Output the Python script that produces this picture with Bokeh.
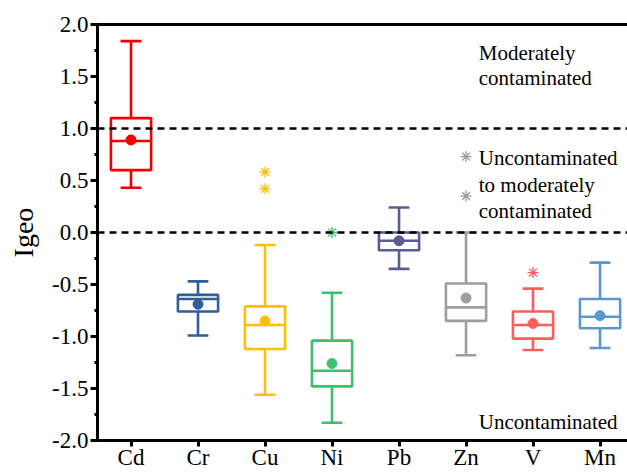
from bokeh.plotting import figure
from bokeh.models import (Range1d, FixedTicker, SingleIntervalTicker, NumeralTickFormatter,
                          LinearAxis, Span, Label, ColumnDataSource)
from bokeh.embed import file_html
from bokeh.resources import INLINE

elements = ["Cd", "Cr", "Cu", "Ni", "Pb", "Zn", "V", "Mn"]
colors = ["#F20000", "#2F5F98", "#FFC000", "#3CC06C", "#5B5B94", "#9E9E9E", "#FF5C5C", "#5E97D0"]
whisk_hi = [1.84, -0.47, -0.12, -0.58, 0.24, 0.00, -0.54, -0.29]
q3 = [1.10, -0.60, -0.71, -1.04, 0.00, -0.49, -0.76, -0.64]
median = [0.88, -0.64, -0.89, -1.33, -0.08, -0.72, -0.89, -0.81]
mean = [0.89, -0.69, -0.85, -1.26, -0.08, -0.63, -0.875, -0.80]
q1 = [0.60, -0.76, -1.12, -1.48, -0.17, -0.85, -1.02, -0.92]
whisk_lo = [0.43, -0.99, -1.56, -1.83, -0.35, -1.18, -1.13, -1.11]
outlier_elem = ["Cu", "Cu", "Ni", "Zn", "Zn", "V"]
outlier_val = [0.58, 0.42, 0.00, 0.73, 0.35, -0.385]

FONT = "'Liberation Serif', 'Times New Roman', serif"
idx = list(range(len(elements)))
BOX_HALF = 0.3
CAP_HALF = 0.155

p = figure(width=627, height=473, output_backend="svg", toolbar_location=None,
           x_range=Range1d(-0.5, 7.41), y_range=Range1d(-2.0, 2.0),
           min_border_left=97, min_border_right=0, min_border_top=24, min_border_bottom=33)
p.outline_line_color = None
p.xgrid.visible = False
p.ygrid.visible = False
p.background_fill_color = "white"
p.border_fill_color = "white"

src = ColumnDataSource(dict(
    x=idx, color=colors, hi=whisk_hi, q3=q3, med=median, mean=mean, q1=q1, lo=whisk_lo,
    left=[i - BOX_HALF for i in idx], right=[i + BOX_HALF for i in idx],
    cl=[i - CAP_HALF for i in idx], cr=[i + CAP_HALF for i in idx],
))

LW = 2.6
p.segment(x0="x", y0="q3", x1="x", y1="hi", line_color="color", line_width=LW, source=src)
p.segment(x0="x", y0="q1", x1="x", y1="lo", line_color="color", line_width=LW, source=src)
p.segment(x0="cl", y0="hi", x1="cr", y1="hi", line_color="color", line_width=LW, source=src)
p.segment(x0="cl", y0="lo", x1="cr", y1="lo", line_color="color", line_width=LW, source=src)
p.quad(left="left", right="right", bottom="q1", top="q3", fill_color=None,
       line_color="color", line_width=LW, source=src)
p.segment(x0="left", y0="med", x1="right", y1="med", line_color="color", line_width=LW, source=src)
p.scatter(x="x", y="mean", marker="circle", size=10, fill_color="color", line_color="color", source=src)

ox = [elements.index(e) for e in outlier_elem]
oc = [colors[i] for i in ox]
p.scatter(x=ox, y=outlier_val, marker="asterisk", size=11, line_color=oc, line_width=1.3)

for yv in (1.0, 0.0):
    p.add_layout(Span(location=yv, dimension="width", line_color="black",
                      line_width=2.5, line_dash="7 5"))

xa = p.xaxis[0]
xa.ticker = FixedTicker(ticks=idx)
xa.major_label_overrides = {i: e for i, e in enumerate(elements)}
xa.minor_tick_line_color = None
ya = p.yaxis[0]
ya.ticker = SingleIntervalTicker(interval=0.5, num_minor_ticks=2)
ya.formatter = NumeralTickFormatter(format="0.0")
ya.axis_label = "Igeo"
ya.axis_label_text_font = FONT
ya.axis_label_text_font_size = "28px"
ya.axis_label_text_font_style = "normal"
ya.axis_label_text_color = "black"
ya.axis_label_standoff = 10
ya.minor_tick_out = 3
ya.minor_tick_in = 0
ya.minor_tick_line_width = 3
for ax in (xa, ya):
    ax.axis_line_width = 3
    ax.axis_line_color = "black"
    ax.major_tick_line_width = 3
    ax.major_tick_line_color = "black"
    ax.major_tick_out = 7
    ax.major_tick_in = 0
    ax.major_label_text_font = FONT
    ax.major_label_text_font_size = "23px"
    ax.major_label_text_color = "black"
    ax.major_label_standoff = 2
xa.major_tick_out = 6
xa.major_label_standoff = -2

top = LinearAxis(ticker=FixedTicker(ticks=[]), major_tick_line_color=None,
                 minor_tick_line_color=None, major_label_text_font_size="0px",
                 axis_line_width=3, axis_line_color="black")
p.add_layout(top, "above")

ann_x = 5.19
ann_lines = [("Moderately", 1.724), ("contaminated", 1.484),
             ("Uncontaminated", 0.714), ("to  moderately", 0.459), ("contaminated", 0.205),
             ("Uncontaminated", -1.824)]
for t, yv in ann_lines:
    p.add_layout(Label(x=ann_x, y=yv, text=t, text_font=FONT, text_font_size="21px",
                       text_color="black", text_baseline="alphabetic", text_align="left"))

open("out.html", "w").write(file_html(p, INLINE))
